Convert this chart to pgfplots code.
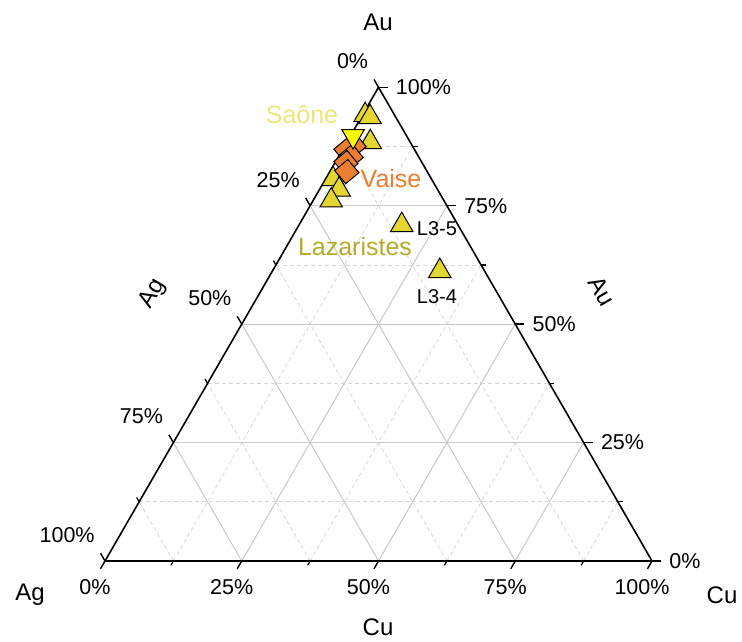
\documentclass[border=0pt]{standalone}
\usepackage{pgfplots}
\pgfplotsset{compat=1.18}
\usepackage{pgfplotstable}
\usepackage{fontspec}
\setmainfont{Liberation Sans}

\definecolor{lazfill}{RGB}{228,214,48}
\definecolor{laztext}{RGB}{178,172,40}
\definecolor{saonefill}{RGB}{255,255,0}
\definecolor{saonetext}{RGB}{236,230,120}
\definecolor{vaise}{RGB}{237,125,49}
\definecolor{majorgrid}{RGB}{200,200,200}
\definecolor{minorgrid}{RGB}{215,215,215}

\tikzset{
  ticklab/.style={font=\fontsize{10.75}{12}\selectfont, inner sep=0pt},
  titlab/.style={font=\fontsize{12}{14}\selectfont, inner sep=0pt},
  grouplab/.style={font=\fontsize{12.5}{14}\selectfont, inner sep=0pt},
}

% Compositions as fractions (Ag, Cu, Au)
\pgfplotstableread{
Ag     Cu     Au
0.054  0.005  0.941
0.047  0.016  0.937
0.073  0.043  0.884
0.180  0.014  0.806
0.180  0.036  0.784
0.206  0.033  0.761
0.103  0.188  0.709
0.082  0.306  0.612
}\lazaristes

\pgfplotstableread{
Ag     Cu     Au
0.106  0.017  0.877
0.126  0.007  0.867
0.123  0.023  0.854
0.139  0.020  0.841
0.147  0.031  0.822
}\vaisedata

\pgfplotstableread{
Ag     Cu     Au
0.098  0.005  0.897
}\saonedata

\begin{document}
\begin{tikzpicture}
\begin{axis}[
  hide axis, clip=false,
  x=273.5pt, y=273.5pt,
  xmin=-0.19196, xmax=1.16453, ymin=-0.14625, ymax=1.02559,
]
% invisible frame fixing the picture size
\path (axis cs:-0.19196,-0.14625) rectangle (axis cs:1.16453,1.02559);

% minor grid (12.5 % steps)
\pgfplotsinvokeforeach{0.125,0.375,0.625,0.875}{
  \draw[minorgrid, line width=0.4pt, dash pattern=on 2pt off 1.5pt]
    (axis cs:#1,0) -- (axis cs:{#1+0.5*(1-#1)},{0.8660254*(1-#1)});
  \draw[minorgrid, line width=0.4pt, dash pattern=on 2pt off 1.5pt]
    (axis cs:{0.5*#1},{0.8660254*#1}) -- (axis cs:{1-0.5*#1},{0.8660254*#1});
  \draw[minorgrid, line width=0.4pt, dash pattern=on 2pt off 1.5pt]
    (axis cs:{1-#1},0) -- (axis cs:{0.5*(1-#1)},{0.8660254*(1-#1)});
}
% major grid (25 % steps)
\pgfplotsinvokeforeach{0.25,0.5,0.75}{
  \draw[majorgrid, line width=0.5pt]
    (axis cs:#1,0) -- (axis cs:{#1+0.5*(1-#1)},{0.8660254*(1-#1)});
  \draw[majorgrid, line width=0.5pt]
    (axis cs:{0.5*#1},{0.8660254*#1}) -- (axis cs:{1-0.5*#1},{0.8660254*#1});
  \draw[majorgrid, line width=0.5pt]
    (axis cs:{1-#1},0) -- (axis cs:{0.5*(1-#1)},{0.8660254*(1-#1)});
}

% triangle frame
\draw[black, line width=0.8pt] (axis cs:0,0) -- (axis cs:1,0) -- (axis cs:0.5,0.8660254) -- cycle;

% major ticks
\pgfplotsinvokeforeach{0,0.25,0.5,0.75,1}{
  \draw[black, line width=0.7pt] (axis cs:#1,0) -- ++(-2.25pt,-3.897pt);
  \draw[black, line width=0.7pt] (axis cs:{1-0.5*#1},{0.8660254*#1}) -- ++(4.5pt,0pt);
  \draw[black, line width=0.7pt] (axis cs:{0.5*(1-#1)},{0.8660254*(1-#1)}) -- ++(-2.25pt,3.897pt);
}
% minor ticks
\pgfplotsinvokeforeach{0.125,0.375,0.625,0.875}{
  \draw[black, line width=0.6pt] (axis cs:#1,0) -- ++(-1.25pt,-2.165pt);
  \draw[black, line width=0.6pt] (axis cs:{1-0.5*#1},{0.8660254*#1}) -- ++(2.5pt,0pt);
  \draw[black, line width=0.6pt] (axis cs:{0.5*(1-#1)},{0.8660254*(1-#1)}) -- ++(-1.25pt,2.165pt);
}

% Cu axis (bottom)
\node[ticklab, xshift=-5pt, yshift=-13pt] at (axis cs:0,0) {0\%};
\node[ticklab, xshift=-5pt, yshift=-13pt] at (axis cs:0.25,0) {25\%};
\node[ticklab, xshift=-5pt, yshift=-13pt] at (axis cs:0.5,0) {50\%};
\node[ticklab, xshift=-5pt, yshift=-13pt] at (axis cs:0.75,0) {75\%};
\node[ticklab, xshift=-5pt, yshift=-13pt] at (axis cs:1,0) {100\%};
% Au axis (right)
\node[ticklab, anchor=west, xshift=8.5pt] at (axis cs:1,0) {0\%};
\node[ticklab, anchor=west, xshift=8.5pt] at (axis cs:0.875,0.2165064) {25\%};
\node[ticklab, anchor=west, xshift=8.5pt] at (axis cs:0.75,0.4330127) {50\%};
\node[ticklab, anchor=west, xshift=8.5pt] at (axis cs:0.625,0.6495191) {75\%};
\node[ticklab, anchor=west, xshift=8.5pt] at (axis cs:0.5,0.8660254) {100\%};
% Ag axis (left)
\node[ticklab, anchor=east, xshift=-5pt, yshift=13pt] at (axis cs:0.5,0.8660254) {0\%};
\node[ticklab, anchor=east, xshift=-5pt, yshift=13pt] at (axis cs:0.375,0.6495191) {25\%};
\node[ticklab, anchor=east, xshift=-5pt, yshift=13pt] at (axis cs:0.25,0.4330127) {50\%};
\node[ticklab, anchor=east, xshift=-5pt, yshift=13pt] at (axis cs:0.125,0.2165064) {75\%};
\node[ticklab, anchor=east, xshift=-5pt, yshift=13pt] at (axis cs:0,0) {100\%};

% axis titles and corner names
\node[titlab] at (axis cs:0.4991,0.9854) {Au};
\node[titlab] at (axis cs:0.4991,-0.1207) {Cu};
\node[titlab] at (axis cs:-0.1371,-0.0622) {Ag};
\node[titlab] at (axis cs:1.1280,-0.0622) {Cu};
\node[titlab, rotate=-60] at (axis cs:0.9080,0.4930) {Au};
\node[titlab, rotate=60] at (axis cs:0.0880,0.4880) {Ag};

% data
\addplot[only marks, mark=triangle*, mark size=6.5pt,
  mark options={fill=lazfill, draw=black, line width=0.5pt}]
  table[x expr=\thisrow{Cu}+0.5*\thisrow{Au}, y expr=0.8660254*\thisrow{Au}] {\lazaristes};
\addplot[only marks, mark=square*, mark size=4.3pt,
  mark options={fill=vaise, draw=black, line width=0.5pt, rotate=40}]
  table[x expr=\thisrow{Cu}+0.5*\thisrow{Au}, y expr=0.8660254*\thisrow{Au}] {\vaisedata};
\addplot[only marks, mark=triangle*, mark size=6.5pt,
  mark options={fill=saonefill, draw=black, line width=0.5pt, rotate=180}]
  table[x expr=\thisrow{Cu}+0.5*\thisrow{Au}, y expr=0.8660254*\thisrow{Au}] {\saonedata};

% group names
\node[grouplab, text=saonetext] at (axis cs:0.3601,0.8154) {Saône};
\node[grouplab, text=vaise] at (axis cs:0.5229,0.6984) {Vaise};
\node[grouplab, text=laztext] at (axis cs:0.4570,0.5740) {Lazaristes};
\node[font=\fontsize{10}{12}\selectfont, inner sep=0pt] at (axis cs:0.6069,0.6069) {L3-5};
\node[font=\fontsize{10}{12}\selectfont, inner sep=0pt] at (axis cs:0.6069,0.4826) {L3-4};
\end{axis}
\end{tikzpicture}
\end{document}
